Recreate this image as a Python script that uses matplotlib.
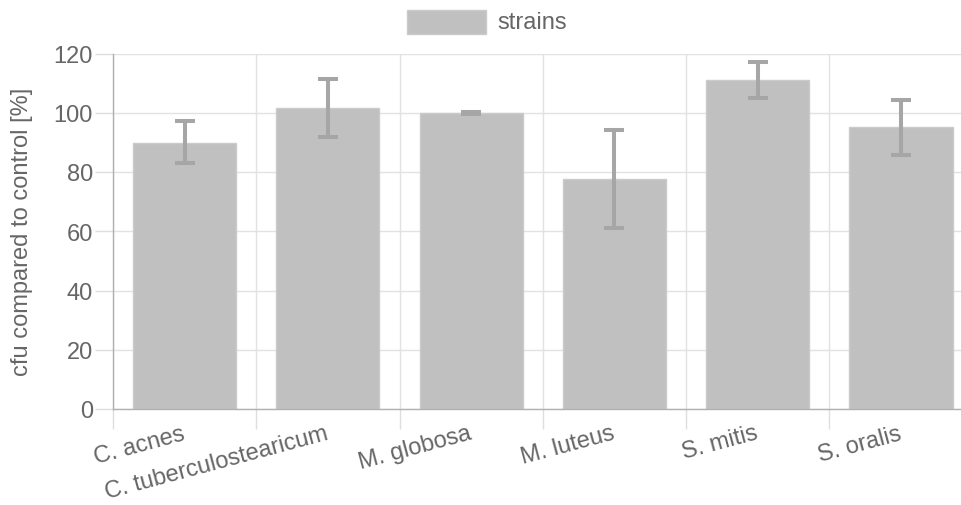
import matplotlib
matplotlib.use("Agg")
import matplotlib.pyplot as plt
import numpy as np
from matplotlib.patches import Rectangle

categories = ["C. acnes", "C. tuberculostearicum", "M. globosa", "M. luteus", "S. mitis", "S. oralis"]
means = [89.8, 101.5, 100.0, 77.6, 111.1, 95.1]
lower = [82.9, 91.7, 99.7, 61.1, 105.1, 85.8]
upper = [97.1, 111.4, 100.3, 94.2, 117.0, 104.4]
y_ticks = [0, 20, 40, 60, 80, 100, 120]
series_label = "strains"
y_label = "cfu compared to control [%]"

plt.rcParams['font.family'] = ['Liberation Sans', 'DejaVu Sans']
TXT = '#666666'
FS = 17

W, H = 961, 506
fig = plt.figure(figsize=(W / 100, H / 100), dpi=100)
x0, x1 = 113, 972.6
y0, y1 = 410, 54.5
ax = fig.add_axes([x0 / W, 1 - y0 / H, (x1 - x0) / W, (y0 - y1) / H])

x = np.arange(len(categories))
m = np.array(means)
yerr = [m - np.array(lower), np.array(upper) - m]
ax.bar(x, m, width=0.72, color='#c0c0c0', edgecolor='#cbcbcb', linewidth=1, zorder=2)
ax.errorbar(x, m, yerr=yerr, fmt='none', ecolor='#a6a6a6', elinewidth=2.9,
            capsize=7.2, capthick=2.9, zorder=3)

ax.set_xlim(-0.5, len(categories) - 0.5)
ax.set_ylim(0, 120)
ax.set_yticks(y_ticks)
ax.set_xticks(x)
ax.set_xticks(np.arange(-0.5, len(categories) + 0.5, 1), minor=True)
ax.set_xticklabels(categories, rotation=15, ha='right', va='center',
                   rotation_mode='anchor', fontsize=FS, color=TXT)
ax.tick_params(axis='x', which='major', length=0, pad=17)
ax.tick_params(axis='x', which='minor', length=14.4, width=1, color='#dedede')
ax.tick_params(axis='y', length=13, width=1, color='#dedede', labelsize=FS,
               labelcolor=TXT, pad=1.5)

ax.grid(axis='y', color='#e2e2e2', linewidth=1, zorder=0)
ax.grid(axis='x', which='minor', color='#e2e2e2', linewidth=1, zorder=0)
ax.set_axisbelow(True)

for s in ['top', 'right']:
    ax.spines[s].set_visible(False)
ax.spines['left'].set_color('#b0b0b0')
ax.spines['bottom'].set_color('#b0b0b0')
ax.spines['left'].set_linewidth(1)
ax.spines['bottom'].set_linewidth(1)

ax.set_ylabel(y_label, fontsize=FS, color=TXT)
ax.yaxis.set_label_coords((33 - x0) / (x1 - x0), 0.5)

# legend
fig.patches.append(Rectangle((407 / W, 1 - 34.7 / H), 79 / W, 24 / H,
                             transform=fig.transFigure, facecolor='#c0c0c0',
                             edgecolor='#cbcbcb', linewidth=1))
fig.text(497 / W, 1 - 22.7 / H, series_label, fontsize=FS, color=TXT,
         ha='left', va='center')

fig.savefig("out.png", dpi=100)
